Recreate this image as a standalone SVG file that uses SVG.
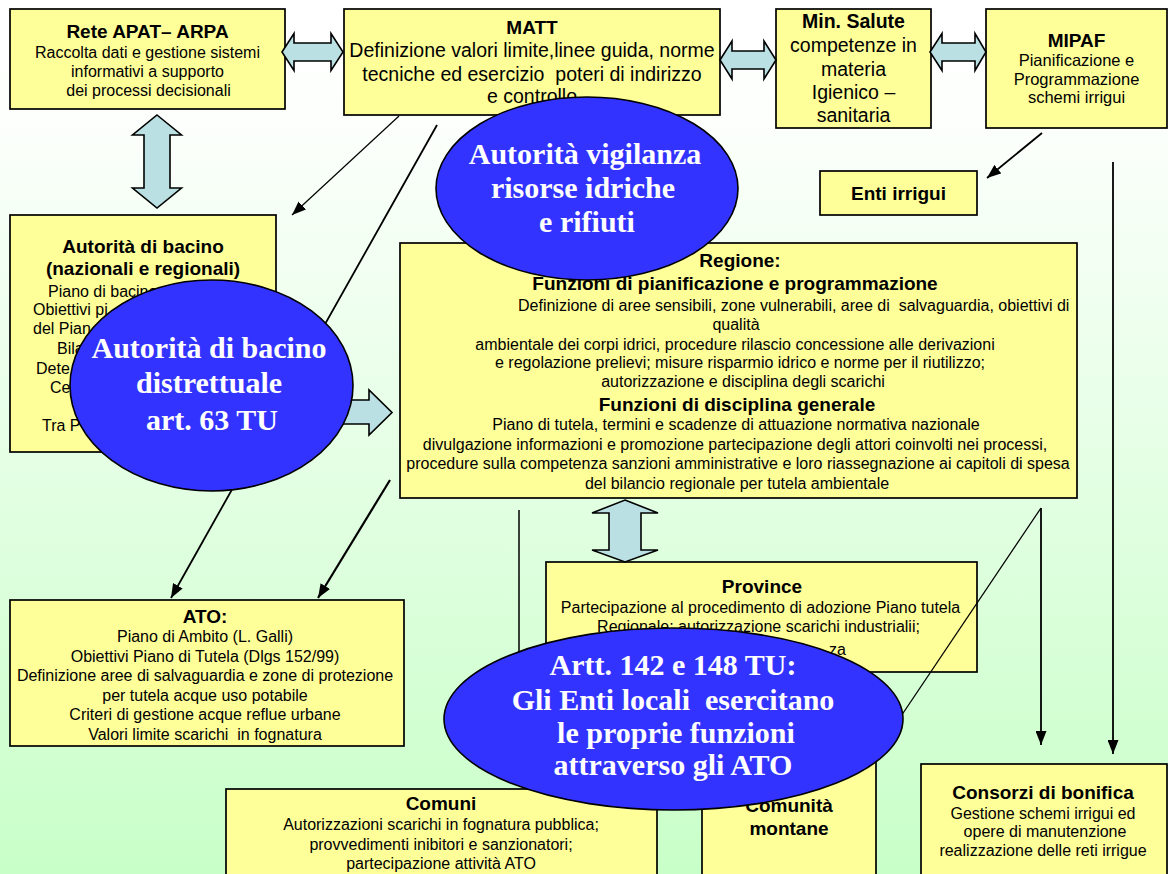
<svg xmlns="http://www.w3.org/2000/svg" width="1168" height="874" viewBox="0 0 1168 874">
  <defs>
    <linearGradient id="bg" x1="0" y1="0" x2="0" y2="1">
      <stop offset="0" stop-color="#FFFFFF"/>
      <stop offset="0.12" stop-color="#FDFFFD"/>
      <stop offset="1" stop-color="#C8FFC8"/>
    </linearGradient>
    <marker id="ah" markerUnits="userSpaceOnUse" markerWidth="14" markerHeight="11" refX="14" refY="5.5" orient="auto">
      <path d="M0,0 L14,5.5 L0,11 z" fill="#000"/>
    </marker>
    <style>
      .box { fill: #FFFF99; stroke: #000; stroke-width: 1.7; }
      .blk { fill: #BBE0E3; stroke: #000; stroke-width: 1.6; stroke-linejoin: miter; }
      .ell { fill: #3333FF; stroke: #000; stroke-width: 1.6; }
      .ln { fill: none; stroke: #000; }
      .arr { marker-end: url(#ah); }
      text { font-family: "Liberation Sans", Arial, sans-serif; fill: #000; text-anchor: middle; }
      .b { font-weight: bold; font-size: 19px; }
      .s { font-size: 16px; }
      .m { font-size: 19.5px; }
      .st { text-anchor: start; }
      .en { text-anchor: end; }
      .e { font-family: "Liberation Serif", "Times New Roman", serif; font-weight: bold; font-size: 30px; fill: #FFFFFF; }
    </style>
  </defs>

  <rect x="0" y="0" width="1168" height="874" fill="url(#bg)"/>

  <!-- boxes -->
  <g id="rete-apat-arpa">
    <rect class="box" x="10" y="9" width="275" height="100"/>
    <text class="b" x="147.5" y="38">Rete APAT– ARPA</text>
    <text class="s" x="147.5" y="58">Raccolta dati e gestione sistemi</text>
    <text class="s" x="147.5" y="77">informativi a supporto</text>
    <text class="s" x="148.5" y="96">dei processi decisionali</text>
  </g>

  <g id="matt">
    <rect class="box" x="344" y="9" width="376" height="106"/>
    <text class="b" x="532" y="34">MATT</text>
    <text class="m" x="532" y="57">Definizione valori limite,linee guida, norme</text>
    <text class="m" x="532" y="81" xml:space="preserve">tecniche ed esercizio  poteri di indirizzo</text>
    <text class="m" x="532" y="103">e controllo</text>
  </g>

  <g id="min-salute">
    <rect class="box" x="776" y="9" width="155" height="119"/>
    <text class="b" x="853.5" y="28" style="font-size:19.5px">Min. Salute</text>
    <text class="m" x="853.5" y="52">competenze in</text>
    <text class="m" x="853.5" y="75.5">materia</text>
    <text class="m" x="853.5" y="99">Igienico –</text>
    <text class="m" x="853.5" y="122">sanitaria</text>
  </g>

  <g id="mipaf">
    <rect class="box" x="986" y="9" width="181" height="119"/>
    <text class="b" x="1076.5" y="47">MIPAF</text>
    <text x="1076.5" y="66" style="font-size:16.5px">Pianificazione e</text>
    <text x="1076.5" y="85" style="font-size:16.5px">Programmazione</text>
    <text x="1076.5" y="103" style="font-size:16.5px">schemi irrigui</text>
  </g>

  <g id="enti-irrigui">
    <rect class="box" x="820" y="171" width="157" height="44"/>
    <text class="b" x="898.5" y="200">Enti irrigui</text>
  </g>

  <g id="autorita-bacino">
    <rect class="box" x="10" y="215" width="266" height="237"/>
    <text class="b" x="143" y="253">Autorità di bacino</text>
    <text class="b" x="143" y="275">(nazionali e regionali)</text>
    <text class="s st" x="48" y="297">Piano di bacino</text>
    <text class="s st" x="33" y="315">Obiettivi pi</text>
    <text class="s st" x="33" y="334">del Pian</text>
    <text class="s st" x="57" y="354">Bila</text>
    <text class="s st" x="36" y="374">Dete</text>
    <text class="s st" x="50" y="393">Ce</text>
    <text class="s st" x="42" y="431">Tra P</text>
  </g>

  <g id="regione">
    <rect class="box" x="400" y="243" width="677" height="255"/>
    <text class="b" x="740" y="267">Regione:</text>
    <text class="b" x="735" y="290">Funzioni di pianificazione e programmazione</text>
    <text class="s st" x="518" y="311" xml:space="preserve">Definizione di aree sensibili, zone vulnerabili, aree di  salvaguardia, obiettivi di</text>
    <text class="s" x="736" y="330">qualità</text>
    <text class="s" x="735" y="350">ambientale dei corpi idrici, procedure rilascio concessione alle derivazioni</text>
    <text class="s" x="740" y="368">e regolazione prelievi; misure risparmio idrico e norme per il riutilizzo;</text>
    <text class="s" x="743" y="387">autorizzazione e disciplina degli scarichi</text>
    <text class="b" x="737" y="411">Funzioni di disciplina generale</text>
    <text class="s" x="736" y="430">Piano di tutela, termini e scadenze di attuazione normativa nazionale</text>
    <text class="s" x="735" y="450">divulgazione informazioni e promozione partecipazione degli attori coinvolti nei processi,</text>
    <text class="s" x="738" y="469">procedure sulla competenza sanzioni amministrative e loro riassegnazione ai capitoli di spesa</text>
    <text class="s" x="737" y="489">del bilancio regionale per tutela ambientale</text>
  </g>

  <g id="ato">
    <rect class="box" x="10" y="600" width="394" height="146"/>
    <text class="b" x="205" y="623">ATO:</text>
    <text class="s" x="205" y="642">Piano di Ambito (L. Galli)</text>
    <text class="s" x="205" y="662">Obiettivi Piano di Tutela (Dlgs 152/99)</text>
    <text class="s" x="205" y="681">Definizione aree di salvaguardia e zone di protezione</text>
    <text class="s" x="205" y="701">per tutela acque uso potabile</text>
    <text class="s" x="205" y="720">Criteri di gestione acque reflue urbane</text>
    <text class="s" x="205" y="740" xml:space="preserve">Valori limite scarichi  in fognatura</text>
  </g>

  <g id="province">
    <rect class="box" x="546" y="562" width="431" height="110"/>
    <text class="b" x="762" y="593">Province</text>
    <text class="s" x="760.5" y="613">Partecipazione al procedimento di adozione Piano tutela</text>
    <text class="s" x="758.5" y="632">Regionale; autorizzazione scarichi industrialii;</text>
    <text class="s en" x="846" y="655">za</text>
  </g>

  <g id="comuni">
    <rect class="box" x="226" y="789" width="431" height="95"/>
    <text class="b" x="441" y="810">Comuni</text>
    <text class="s" x="441" y="830">Autorizzazioni scarichi in fognatura pubblica;</text>
    <text class="s" x="441" y="850">provvedimenti inibitori e sanzionatori;</text>
    <text class="s" x="441" y="869">partecipazione attività ATO</text>
  </g>

  <g id="comunita-montane">
    <rect class="box" x="702" y="760" width="174" height="124"/>
    <text class="b" x="789" y="812">Comunità</text>
    <text class="b" x="789" y="835">montane</text>
  </g>

  <g id="consorzi-bonifica">
    <rect class="box" x="921" y="764" width="246" height="120"/>
    <text class="b" x="1043" y="799">Consorzi di bonifica</text>
    <text class="s" x="1043" y="819">Gestione schemi irrigui ed</text>
    <text class="s" x="1045" y="837">opere di manutenzione</text>
    <text class="s" x="1043" y="856">realizzazione delle reti irrigue</text>
  </g>

  <!-- connectors -->
  <g id="connectors">
    <path class="ln arr" d="M399,116 L292,215" stroke-width="1.2"/>
    <path class="ln arr" d="M437,125 L171,598" stroke-width="1.8"/>
    <path class="ln arr" d="M390,480 L318,598" stroke-width="2.2"/>
    <path class="ln arr" d="M1042,133 L987,178" stroke-width="1.8"/>
    <path class="ln arr" d="M1041,508 L1041,745" stroke-width="1.8"/>
    <path class="ln" d="M1041,508 L885,740" stroke-width="1.3"/>
    <path class="ln arr" d="M1113,162 L1113,754" stroke-width="1.8"/>
    <path class="ln" d="M519,510 L519,700" stroke-width="1.5"/>

    <!-- double block arrows -->
    <path class="blk" d="M282,52 L294,33.5 L294,43 L331,43 L331,33.5 L343,52 L331,70.5 L331,61 L294,61 L294,70.5 Z"/>
    <path class="blk" d="M720,60 L732,41 L732,51 L764,51 L764,41 L776,60 L764,79 L764,69 L732,69 L732,79 Z"/>
    <path class="blk" d="M930,52 L942,33.5 L942,43 L975,43 L975,33.5 L986,52 L975,70.5 L975,61 L942,61 L942,70.5 Z"/>
    <path class="blk" d="M157,115 L181.5,135 L170,135 L170,188 L181.5,188 L157,208 L132.5,188 L144,188 L144,135 L132.5,135 Z"/>
    <path class="blk" d="M330,400 L369,400 L369,390 L392,412.5 L369,435 L369,424 L330,424 Z"/>
    <path class="blk" d="M625,500 L658,513 L641,513 L641,550 L658,550 L625,562 L592,550 L609,550 L609,513 L592,513 Z"/>
  </g>

  <!-- overlay ellipses -->
  <g id="autorita-vigilanza">
    <ellipse class="ell" cx="587" cy="188.5" rx="151" ry="91.5"/>
    <text class="e" x="585" y="164">Autorità vigilanza</text>
    <text class="e" x="583" y="198">risorse idriche</text>
    <text class="e" x="587" y="232">e rifiuti</text>
  </g>

  <g id="autorita-distrettuale">
    <ellipse class="ell" cx="211.5" cy="385.5" rx="141.5" ry="105.5"/>
    <text class="e" x="209" y="358">Autorità di bacino</text>
    <text class="e" x="209" y="393">distrettuale</text>
    <text class="e" x="212" y="430">art. 63 TU</text>
  </g>

  <g id="enti-locali-ato">
    <ellipse class="ell" cx="673.5" cy="719" rx="229.5" ry="91"/>
    <text class="e" x="673" y="675">Artt. 142 e 148 TU:</text>
    <text class="e" x="673" y="710" xml:space="preserve">Gli Enti locali  esercitano</text>
    <text class="e" x="676" y="743">le proprie funzioni</text>
    <text class="e" x="673" y="775">attraverso gli ATO</text>
  </g>
</svg>
